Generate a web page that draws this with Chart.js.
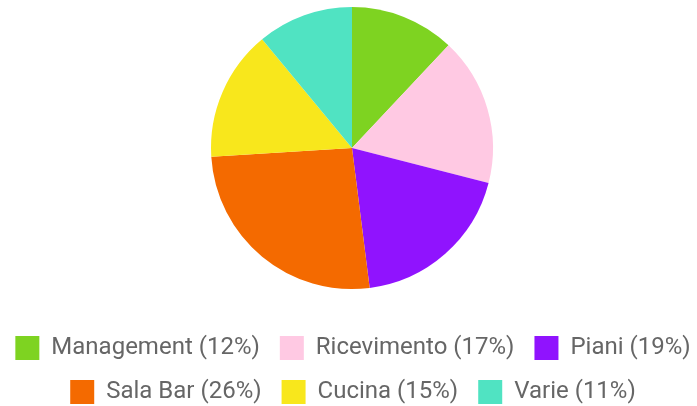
<!DOCTYPE html>
<html>
<head>
<meta charset="utf-8">
<script src="https://cdn.jsdelivr.net/npm/chart.js@4"></script>
<style>
  html, body { margin: 0; padding: 0; background: #fff; }
  #wrap { width: 697px; height: 406px; }
</style>
</head>
<body>
<div id="wrap"><canvas id="pieChart"></canvas></div>
<script>
const categories = ['Management', 'Ricevimento', 'Piani', 'Sala Bar', 'Cucina', 'Varie'];
const shares = [12, 17, 19, 26, 15, 11];
const colors = ['#7ED321', '#FFC9E3', '#9013FE', '#F46A00', '#F8E71C', '#50E3C2'];

const labels = categories.map((c, i) => `${c} (${shares[i]}%)`);

const ctx = document.getElementById('pieChart').getContext('2d');
new Chart(ctx, {
    type: 'pie',
    data: {
        labels: labels,
        datasets: [{
            data: shares,
            backgroundColor: colors,
            borderWidth: 0,
            hoverOffset: 0,
            radius: 141
        }]
    },
    options: {
        responsive: true,
        maintainAspectRatio: false,
        animation: false,
        layout: {
            padding: { top: 0, bottom: -8, left: -5, right: -14 }
        },
        plugins: {
            // empty title on the left only nudges the pie to the right
            title: {
                display: true,
                text: ' ',
                position: 'left',
                fullSize: false,
                padding: 0,
                font: { size: 10, lineHeight: 1.2 }
            },
            legend: {
                position: 'bottom',
                title: {
                    display: true,
                    text: ' ',
                    padding: { top: 2, bottom: 0 },
                    font: { size: 15, lineHeight: 1.2 }
                },
                labels: {
                    color: '#666',
                    font: { family: 'Roboto', size: 24 },
                    boxWidth: 24,
                    boxHeight: 24,
                    padding: 20
                }
            },
            tooltip: { enabled: false }
        }
    }
});
</script>
</body>
</html>
